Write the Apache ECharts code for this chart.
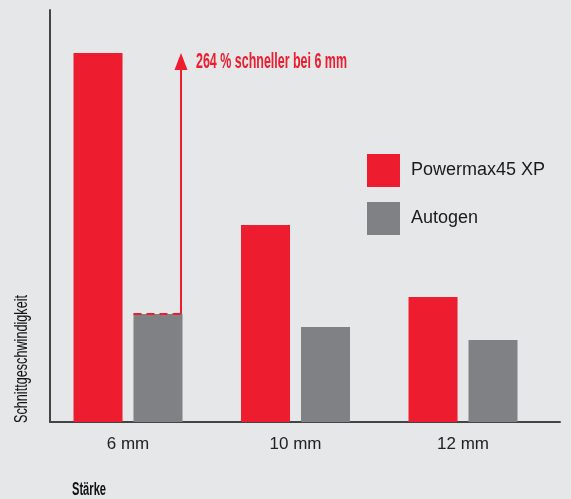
<!DOCTYPE html>
<html>
<head>
<meta charset="utf-8">
<script src="https://cdn.jsdelivr.net/npm/echarts@6/dist/echarts.min.js"></script>
<style>html,body{margin:0;padding:0;background:#e6e7e9;}#c{width:571px;height:499px;}</style>
</head>
<body>
<div id="c"></div>
<script>
const categories = ['6 mm', '10 mm', '12 mm'];
const seriesNames = ['Powermax45 XP', 'Autogen'];
const powermax = [369, 197, 125];
const autogen = [108, 95, 82];
const annotationText = '264 % schneller bei 6 mm';
const yAxisTitle = 'Schnittgeschwindigkeit';
const xAxisTitle = 'Stärke';

const RED = '#ed1c2e', GRAY = '#808184';
const chart = echarts.init(document.getElementById('c'));

function fitScale(text, font, target) {
  const ctx = document.createElement('canvas').getContext('2d');
  ctx.font = font;
  return target / ctx.measureText(text).width;
}

const option = {
  backgroundColor: '#e6e7e9',
  animation: false,
  grid: { left: 50, right: 11, top: 10, bottom: 77 },
  legend: {
    orient: 'vertical', left: 367, top: 154, padding: 0,
    itemWidth: 33, itemHeight: 33, itemGap: 15, icon: 'rect',
    textStyle: { fontSize: 18, color: '#1a1a1a', fontFamily: 'Liberation Sans', padding: [0, 0, 0, 6] },
    data: seriesNames
  },
  xAxis: {
    type: 'value', min: -0.4657, max: 2.579,
    splitLine: { show: false },
    axisLine: { show: true, onZero: false, lineStyle: { color: '#444', width: 2 } },
    axisTick: { show: false },
    axisLabel: {
      customValues: [0, 1, 2],
      formatter: v => categories[Math.round(v)],
      color: '#222', fontSize: 17, fontFamily: 'Liberation Sans', margin: 14
    }
  },
  yAxis: {
    type: 'value', min: 0, max: 412,
    splitLine: { show: false },
    axisLine: { show: true, onZero: false, lineStyle: { color: '#444', width: 2 } },
    axisTick: { show: false },
    axisLabel: { show: false }
  },
  series: [
    { name: seriesNames[0], type: 'bar', barWidth: 49, barGap: '22.4%', itemStyle: { color: RED },
      data: powermax.map((v, i) => [i, v]) },
    { name: seriesNames[1], type: 'bar', barWidth: 49, barGap: '22.4%', itemStyle: { color: GRAY },
      data: autogen.map((v, i) => [i, v]) }
  ]
};
chart.setOption(option);

// annotation positioned via the chart's own scales
const base = chart.convertToPixel({ gridIndex: 0 }, [0, autogen[0]]);
const topP = chart.convertToPixel({ gridIndex: 0 }, [0, powermax[0]]);
const grayLeft = base[0] + 5.5, grayRight = base[0] + 54.5;
const ax = grayRight - 1.5;
const yLow = base[1], yTop = topP[1];

const annFont = 'bold 22px "Liberation Sans Narrow", "Liberation Sans"';
const yFont = '19px "Liberation Sans Narrow", "Liberation Sans"';
const xFont = 'bold 18px "Liberation Sans Narrow", "Liberation Sans"';
const sAnn = fitScale(annotationText, annFont, 151);
const sY = fitScale(yAxisTitle, yFont, 128);
const sX = fitScale(xAxisTitle, xFont, 34);

chart.setOption({
  graphic: [
    { type: 'line', shape: { x1: grayLeft, y1: yLow, x2: grayRight, y2: yLow },
      style: { stroke: RED, lineWidth: 2, lineDash: [8, 5] }, z: 10 },
    { type: 'line', shape: { x1: ax, y1: yLow, x2: ax, y2: yTop + 16 },
      style: { stroke: RED, lineWidth: 2 }, z: 10 },
    { type: 'polygon', shape: { points: [[ax, yTop], [ax - 6.5, yTop + 17], [ax + 6.5, yTop + 17]] },
      style: { fill: RED }, z: 10 },
    { type: 'text', x: 196, y: yTop + 9, scaleX: sAnn,
      style: { text: annotationText, font: annFont, fill: RED, textVerticalAlign: 'middle', textAlign: 'left' }, z: 10 },
    { type: 'text', x: 22, y: 423, rotation: Math.PI / 2, scaleX: sY,
      style: { text: yAxisTitle, font: yFont, fill: '#111', textAlign: 'left', textVerticalAlign: 'middle' } },
    { type: 'text', x: 72, y: 490, scaleX: sX,
      style: { text: xAxisTitle, font: xFont, fill: '#111', textAlign: 'left', textVerticalAlign: 'middle' } }
  ]
});
</script>
</body>
</html>
